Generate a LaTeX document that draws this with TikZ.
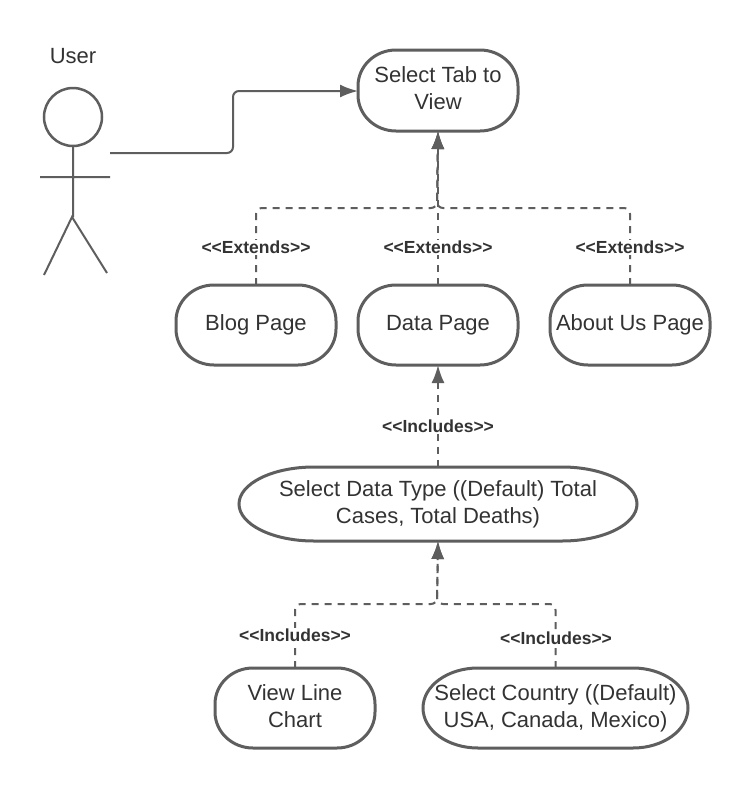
\documentclass[tikz,border=0pt]{standalone}
\usepackage{fontspec}
\setmainfont{Liberation Sans}
\usetikzlibrary{arrows.meta}
\definecolor{ln}{HTML}{5E5E5E}
\definecolor{tx}{HTML}{333333}
\tikzset{
  x=1pt,y=-1pt,
  boxtext/.style={text=tx,align=center,inner sep=0pt,font=\fontsize{22}{27}\selectfont},
  stereo/.style={text=tx,fill=white,inner sep=1.5pt,font=\fontsize{17.5}{19}\selectfont\bfseries},
  outline/.style={draw=ln,line width=3pt},
  actor/.style={draw=ln,line width=2pt},
  solidlink/.style={draw=ln,line width=2pt,rounded corners=6pt},
  dashlink/.style={draw=ln,line width=2pt,rounded corners=6pt,dash pattern=on 7pt off 6pt},
  tip/.style={-{Latex[length=18pt,width=13pt,color=ln]}}
}
\newcommand{\ltlt}{{<}\kern0pt{<}}
\newcommand{\gtgt}{{>}\kern0pt{>}}
% text shift, name, left, top, right, bottom, rx, ry, text
\newcommand{\pillbox}[9][0pt]{%
  \draw[outline] (#3+#7,#4) -- (#5-#7,#4) arc[start angle=90,end angle=0,x radius=#7,y radius=-#8]
     -- (#5,#6-#8) arc[start angle=0,end angle=-90,x radius=#7,y radius=-#8]
     -- (#3+#7,#6) arc[start angle=-90,end angle=-180,x radius=#7,y radius=-#8]
     -- (#3,#4+#8) arc[start angle=180,end angle=90,x radius=#7,y radius=-#8] -- cycle;
  \node[boxtext,yshift=#1] (#2) at ({(#3+#5)/2},{(#4+#6)/2}) {#9};
  \path (#3,#4) -- (#5,#4) coordinate[midway] (#2-n);
  \path (#3,#6) -- (#5,#6) coordinate[midway] (#2-s);
}
\begin{document}
\begin{tikzpicture}
\useasboundingbox (0,0) rectangle (749,788);
\fill[white] (0,0) rectangle (749,788);
% actor
\node[boxtext] (user) at (73,56.5) {User};
\draw[actor,line width=2.5pt] (73,117) circle[radius=29];
\draw[actor] (73,147) -- (73,217) (40,177) -- (110,177) (44,275) -- (72,217) -- (107,273);
\coordinate (actorhand) at (110,153);
% boxes
\pillbox[2pt]{tab}{358}{50}{518}{131}{38}{36}{Select Tab to\\View}
\pillbox{blog}{176}{285}{336}{365}{38}{36}{Blog Page}
\pillbox{data}{358}{285}{518}{365}{38}{36}{Data Page}
\pillbox{about}{550}{285}{710}{365}{38}{36}{About Us Page}
\pillbox{dtype}{239}{467}{637}{541}{75}{37}{Select Data Type ((Default) Total\\Cases, Total Deaths)}
\pillbox[2pt]{line}{215}{668}{375}{748}{38}{36}{View Line\\Chart}
\pillbox{country}{423}{668}{688}{748}{55}{40}{Select Country ((Default)\\USA, Canada, Mexico)}
% connectors
\coordinate (tabin) at (358,91);
\draw[solidlink,tip] (actorhand) -| (233,91) -- (tabin);
\draw[dashlink,tip] (blog-n) |- (437,208) -- (tab-s);
\draw[dashlink,tip] (data-n) -- (tab-s);
\draw[dashlink,tip] (about-n) |- (437,208) -- (tab-s);
\draw[dashlink,tip] (dtype-n) -- (data-s);
\draw[dashlink,tip] (line-n) |- (437,604) -- (dtype-s);
\draw[dashlink,tip] (country-n) |- (437,604) -- (dtype-s);
% labels
\node[stereo] (l1) at (256,247.5) {\ltlt Extends\gtgt};
\node[stereo] (l2) at (438,247.5) {\ltlt Extends\gtgt};
\node[stereo] (l3) at (630,247.5) {\ltlt Extends\gtgt};
\node[stereo] (l4) at (438,426.5) {\ltlt Includes\gtgt};
\node[stereo] (l5) at (295,635.5) {\ltlt Includes\gtgt};
\node[stereo] (l6) at (556,638.5) {\ltlt Includes\gtgt};
\end{tikzpicture}
\end{document}
